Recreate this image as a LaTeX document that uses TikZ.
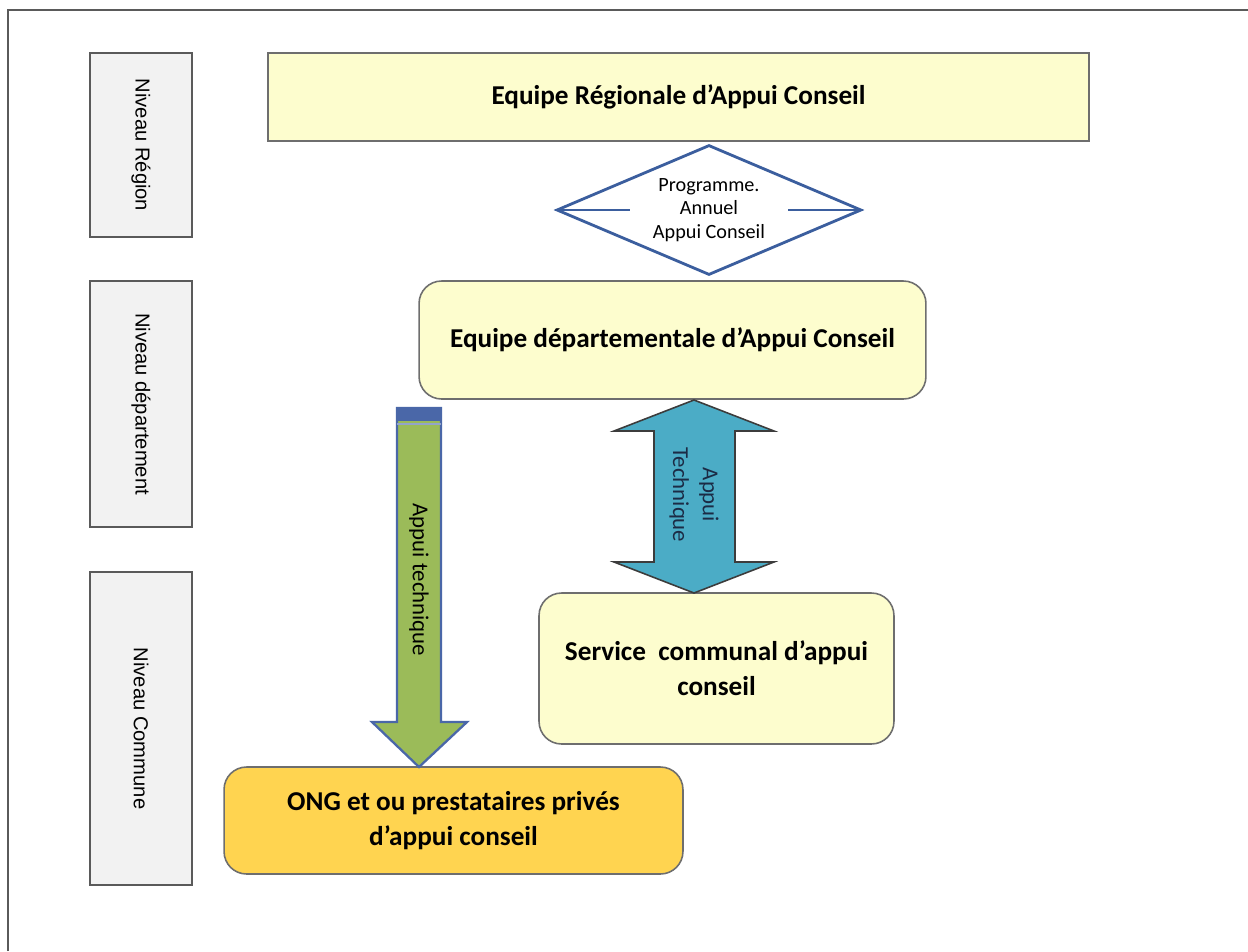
\documentclass[tikz,border=0pt]{standalone}
\usepackage{fontspec}
\setmainfont{Carlito}
\newfontfamily\levelfont{Liberation Sans}
\usetikzlibrary{shapes.geometric}

\begin{document}
\begin{tikzpicture}[x=0.02cm,y=-0.02cm,
  levelbox/.style={draw=levelline,fill=levelgray,line width=0.9pt,inner sep=0pt,font=\levelfont\fontsize{11.5}{13}\selectfont},
  teambox/.style={draw=boxline,fill=paleyellow,line width=0.9pt,align=center,inner sep=0pt,font=\fontsize{15.5}{20}\selectfont\bfseries},
  roundbox/.style={teambox,rounded corners=0.45cm}]
\definecolor{levelgray}{HTML}{F2F2F2}
\definecolor{levelline}{HTML}{5A5A5A}
\definecolor{boxline}{HTML}{6E6E6E}
\definecolor{paleyellow}{HTML}{FDFDCE}
\definecolor{ongyellow}{HTML}{FFD450}
\definecolor{diablue}{HTML}{3B5E9E}
\definecolor{techblue}{HTML}{4BACC6}
\definecolor{techgreen}{HTML}{9BBB59}
\definecolor{arrowblue}{HTML}{4A67A8}
\definecolor{darkline}{HTML}{3C3C3C}
\definecolor{navytext}{HTML}{1B2B45}
\useasboundingbox (0,0) rectangle (1248,951);
\draw[levelline,line width=1.2pt] (8,951) -- (8,10) -- (1248,10);
  \foreach \name/\lbl/\ypos/\len in {region/Niveau Région/145/3.68,dept/Niveau département/404/4.92,commune/Niveau Commune/728.5/6.26}
  {  \node [levelbox,rotate=-90,minimum width=\len cm,minimum height=2.04cm] (\name) at (141,\ypos) {\lbl};}
\node [teambox,minimum width=16.42cm,minimum height=1.76cm] (regteam) at (678.5,97) {Equipe Régionale d’Appui Conseil};
\node [diamond,draw=diablue,fill=white,line width=1.6pt,aspect=2.4,inner sep=0pt,minimum width=6.1cm,minimum height=2.6cm,align=center,font=\fontsize{11.5}{13.5}\selectfont] (prog) at (709,210) {Programme.\\Annuel\\Appui Conseil};
\draw[diablue,line width=1.6pt] (prog.west) -- ++(75,0);
\draw[diablue,line width=1.6pt] (prog.east) -- ++(-75,0);
\node [roundbox,minimum width=10.14cm,minimum height=2.36cm] (deptteam) at (672.5,340) {Equipe départementale d’Appui Conseil};
\node [roundbox,minimum width=7.1cm,minimum height=3.02cm] (service) at (716.5,668.5) {Service\ \ communal d’appui\\conseil};
\node [roundbox,fill=ongyellow,minimum width=9.18cm,minimum height=2.14cm] (ong) at (453.5,820.5) {ONG et ou prestataires privés\\d’appui conseil};
\draw[darkline,fill=techblue,line width=0.9pt] (694,400) -- (774,431) -- (735,431) -- (735,562) -- (774,562) -- (694,593)
  -- (614,562) -- (654,562) -- (654,431) -- (614,431) -- cycle;
\node [rotate=-90,align=center,text=navytext,font=\fontsize{13}{17}\selectfont] (techlbl) at (694,495) {Appui\\Technique};
\draw[arrowblue,fill=techgreen,line width=1.3pt] (397,408) -- (441,408) -- (441,722) -- (467,722) -- (419,767) -- (372,722)
  -- (397,722) -- cycle;
\fill[arrowblue] (397,408) rectangle (441,421);
\draw[arrowblue!60,line width=0.8pt] (397,424) -- (441,424);
\node [rotate=-90,font=\fontsize{13}{15}\selectfont] (greenlbl) at (419,580) {Appui technique};
\end{tikzpicture}
\end{document}
